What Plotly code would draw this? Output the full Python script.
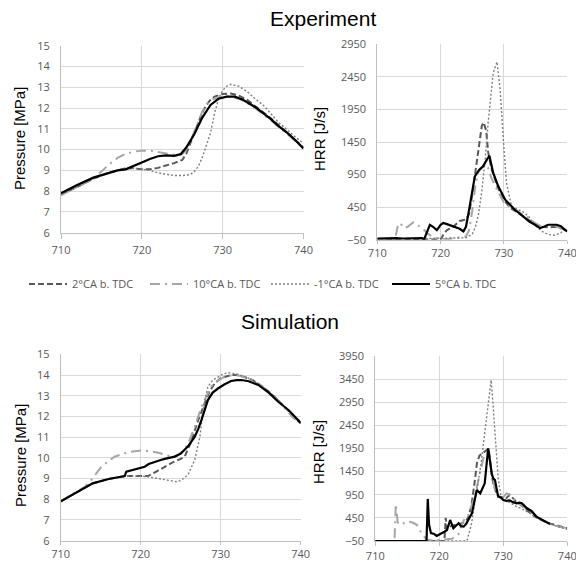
import plotly.graph_objects as go

# ---------------- data ----------------
series_names = ["2°CA b. TDC", "10°CA b. TDC", "-1°CA b. TDC", "5°CA b. TDC"]

# Experiment - pressure [MPa]
exp_p_x_2 = [710,712,714,716,718,719,720,721,722,723,724,725,725.5,726,726.5,727,727.5,728,728.5,729,730,731,732,733,734,735,736,737,738,739,740]
exp_p_y_2 = [7.85,8.2,8.6,8.9,9.1,9.1,9.05,9.05,9.12,9.22,9.35,9.5,9.8,10.3,10.8,11.3,11.8,12.15,12.4,12.55,12.68,12.7,12.6,12.4,12.1,11.8,11.5,11.15,10.8,10.45,10.1]
exp_p_x_10 = [710,712,714,715,716,717,718,719,720,721,722,723,724,725,725.5,726,726.5,727,727.5,728,728.5,729,730,731,732,733,734,735,736,737,738,739,740]
exp_p_y_10 = [7.8,8.2,8.6,8.95,9.3,9.6,9.8,9.9,9.95,9.95,9.88,9.8,9.75,9.78,10.0,10.4,10.9,11.4,11.85,12.15,12.35,12.45,12.55,12.55,12.45,12.25,12.0,11.7,11.4,11.05,10.75,10.4,10.05]
exp_p_x_m1 = [710,712,714,716,718,719,720,721,722,723,724,725,726,726.5,727,727.5,728,728.5,729,729.5,730,730.5,731,732,733,734,735,736,737,738,739,740]
exp_p_y_m1 = [7.85,8.2,8.6,8.9,9.1,9.1,9.05,9.0,8.88,8.8,8.75,8.75,8.8,8.95,9.2,9.65,10.25,10.8,11.75,12.45,12.85,13.05,13.14,13.05,12.8,12.45,12.15,11.7,11.27,10.95,10.6,10.3]
exp_p_x_5 = [710,712,714,716,717,718,719,720,721,722,723,724,724.8,725.5,726.5,727.5,728.5,729.5,730.5,731.5,732.5,734,735,736,737,738,739,740]
exp_p_y_5 = [7.9,8.3,8.65,8.9,9.0,9.05,9.22,9.4,9.55,9.68,9.72,9.7,9.78,10.1,10.75,11.55,12.15,12.45,12.55,12.55,12.4,12.05,11.75,11.45,11.1,10.8,10.45,10.05]

# Experiment - HRR [J/s]
exp_h_x_2 = [710,712,714,716,718,719,720,720.5,721,722,723,724,724.5,725,725.5,726,726.5,726.8,727.2,727.5,728,729,730,731,732,733,734,735,736,737,738,739,740]
exp_h_y_2 = [-40,-40,-45,-40,-40,-45,-45,40,100,150,240,260,350,650,1000,1400,1700,1750,1620,1300,1050,760,560,440,380,320,250,180,150,140,150,130,100]
exp_h_x_10 = [710,712,712.8,713.2,713.6,714.2,714.8,715.7,716.5,717.2,718,719,720,721,722,723,724,724.5,725,725.5,726,726.5,727,727.5,728,729,730,731,732,733,734,735,736,737,738,739,740]
exp_h_y_10 = [-50,-50,-50,150,210,130,150,220,170,120,40,-20,-30,-40,-30,-20,0,100,400,800,1000,1050,1100,1050,900,700,520,450,400,330,280,200,150,180,170,120,100]
exp_h_x_m1 = [710,712,714,716,718,720,722,723,724,724.5,725,725.5,726,726.5,727,727.5,728,728.3,728.9,729.4,729.9,730.4,731.2,732,733,734,735,736,737,738,739,740]
exp_h_y_m1 = [-40,-40,-40,-40,-30,-25,-20,-20,-20,10,40,150,350,700,1150,1743,2200,2512,2680,2255,1487,821,462,430,380,300,160,80,30,20,60,130]
exp_h_x_5 = [710,711,712,713,714,715,716,717,717.4,718,718.3,718.8,719.4,720,720.4,721,722,723,723.6,724,724.4,724.9,725.4,726.1,726.7,727.3,727.7,728.3,729.1,730.2,731,731.7,732.5,733.3,734,734.9,735.7,736.3,737,738.3,739,739.6,740]
exp_h_y_5 = [-30,-25,-30,-25,-30,-28,-30,-25,-40,120,180,150,100,180,207,190,150,120,80,150,360,667,923,1026,1077,1180,1240,975,770,565,480,411,350,283,230,181,130,150,181,181,160,104,80]

# Simulation - pressure [MPa]
sim_p_x_2 = [710,712,714,716,718,719,720,720.9,722,723,724,725,725.5,726.3,727.2,728,728.6,729.25,730,731.3,732,733,734,735,736,737,738,739,740]
sim_p_y_2 = [7.9,8.35,8.77,8.98,9.12,9.12,9.12,9.12,9.35,9.57,9.78,9.95,10.06,10.78,11.83,12.63,13.2,13.6,13.85,14.0,14.0,13.9,13.75,13.5,13.2,12.85,12.45,12.0,11.65]
sim_p_x_10 = [710,712,713,713.8,715.1,716,716.75,718,718.8,720,720.5,721,722.2,723,723.8,724.5,725.5,726,726.75,727.6,728.2,728.8,729.5,730.5,731.5,732,733,734,735,736,737,738,739,740]
sim_p_y_10 = [7.9,8.35,8.6,8.93,9.57,9.85,10.06,10.22,10.3,10.35,10.35,10.33,10.25,10.15,10.06,10.1,10.4,10.75,11.5,12.47,13.0,13.44,13.7,13.92,14.0,14.0,13.9,13.75,13.5,13.2,12.85,12.4,11.95,11.67]
sim_p_x_m1 = [710,712,714,716,718,719,720,720.5,721,722,723,724,724.5,725,725.9,726.75,727.4,727.8,728.4,729,729.7,730.3,730.9,731.5,732,733,734,735,736,737,738,739,740]
sim_p_y_m1 = [7.9,8.35,8.77,8.98,9.12,9.12,9.12,9.1,9.08,9.02,8.95,8.87,8.85,8.9,9.17,9.9,11.02,12.31,13.44,13.75,13.92,14.05,14.11,14.08,14.05,13.92,13.75,13.5,13.2,12.85,12.45,12.05,11.7]
sim_p_x_5 = [710,712,714,716,718,718.2,719,720,720.5,721,721.75,722.5,723,724,724.25,725,725.5,726,726.75,727.2,727.6,728,728.4,729,729.7,730.5,731.3,732,732.6,733.5,734.7,736,737.2,738.5,739.7,740]
sim_p_y_5 = [7.9,8.35,8.77,8.98,9.12,9.33,9.42,9.52,9.57,9.7,9.81,9.9,9.95,10.04,10.06,10.2,10.38,10.6,11.02,11.4,11.83,12.3,12.79,13.15,13.36,13.55,13.71,13.75,13.76,13.7,13.52,13.15,12.71,12.3,11.83,11.7]

# Simulation - HRR [J/s]
sim_h_x_2 = [710,712,714,716,718,720,720.8,721.0,721.2,721.5,722,723,724,724.5,725,725.5,725.9,726.3,726.8,727.3,727.7,728,728.4,729,729.5,730.5,731,732,733,734,735,736,737,738,739,740]
sim_h_y_2 = [-50,-50,-50,-50,-50,-50,-50,450,200,250,280,320,350,450,700,1200,1650,1800,1850,1900,1950,1600,1200,950,900,880,950,800,700,580,470,400,340,300,260,225]
sim_h_x_10 = [710,712,713.0,713.2,713.5,714,715,715.8,716.5,717.3,718,719,720,721,722,723,723.5,724,724.5,725,725.5,726,726.5,727,727.5,727.8,728.2,728.8,729.5,730,730.5,731,732,733,734,735,736,737,738,739,740]
sim_h_y_10 = [-50,-50,-50,750,350,300,380,350,300,100,-20,-40,-30,-20,0,100,300,450,500,700,900,1200,1500,1800,1850,1800,1400,1000,870,900,980,950,800,720,600,480,400,330,290,250,230]
sim_h_x_m1 = [710,712,714,716,718,720,722,723,724,724.3,725,725.8,726.5,727.2,727.8,728.1,728.4,728.8,729.2,729.6,730.2,731,732,733,734,735,736,737,738,739,740]
sim_h_y_m1 = [-50,-50,-50,-50,-50,-50,-50,-50,-50,-50,300,950,1600,2400,3150,3430,2900,2000,1300,950,840,780,700,640,560,470,400,330,280,240,200]
sim_h_x_5 = [710,712,714,716,717,718,718.1,718.2,718.4,718.7,719.2,719.6,720,720.4,720.8,721.2,721.7,722.2,722.6,723,723.4,723.8,724.2,724.6,724.8,725.1,725.5,725.85,726.4,726.8,727.1,727.45,727.65,727.8,728.0,728.2,728.45,728.7,729.2,729.6,730,730.5,731,731.5,732.1,732.5,732.9,733.3,733.7,734.4,735.2,735.9,736.6,737.3]
sim_h_y_5 = [-50,-50,-50,-50,-50,-50,400,860,300,120,100,60,90,116,150,188,404,225,280,333,270,260,320,404,475,549,800,1053,981,1100,1197,1700,1954,1800,1556,1400,1300,1269,908,890,836,820,830,790,765,780,765,720,657,600,475,420,370,318]

x_ticks = [710, 720, 730, 740]
p_ticks = [6, 7, 8, 9, 10, 11, 12, 13, 14, 15]
exp_h_ticks = [-50, 450, 950, 1450, 1950, 2450, 2950]
sim_h_ticks = [-50, 450, 950, 1450, 1950, 2450, 2950, 3450, 3950]

# ---------------- styling ----------------
W, H = 576, 563
styles = {
    "2°CA b. TDC": dict(color="#595959", width=2.0, dash="6px,3px"),
    "10°CA b. TDC": dict(color="#a6a6a6", width=2.0, dash="10px,5px,2px,5px"),
    "-1°CA b. TDC": dict(color="#7f7f7f", width=1.4, dash="2px,2px"),
    "5°CA b. TDC": dict(color="#000000", width=2.2, dash="solid"),
}

panels = [
    ("x", "y", [(exp_p_x_2, exp_p_y_2), (exp_p_x_10, exp_p_y_10), (exp_p_x_m1, exp_p_y_m1), (exp_p_x_5, exp_p_y_5)], True),
    ("x2", "y2", [(exp_h_x_2, exp_h_y_2), (exp_h_x_10, exp_h_y_10), (exp_h_x_m1, exp_h_y_m1), (exp_h_x_5, exp_h_y_5)], False),
    ("x3", "y3", [(sim_p_x_2, sim_p_y_2), (sim_p_x_10, sim_p_y_10), (sim_p_x_m1, sim_p_y_m1), (sim_p_x_5, sim_p_y_5)], False),
    ("x4", "y4", [(sim_h_x_2, sim_h_y_2), (sim_h_x_10, sim_h_y_10), (sim_h_x_m1, sim_h_y_m1), (sim_h_x_5, sim_h_y_5)], False),
]

fig = go.Figure()
for xa, ya, data, show in panels:
    for name, (xs, ys) in zip(series_names, data):
        fig.add_trace(go.Scatter(x=xs, y=ys, mode="lines", name=name, line=styles[name],
                                 xaxis=xa, yaxis=ya, showlegend=show, legendgroup=name))

def px_x(a, b):
    return [a / W, b / W]

def px_y(top, bottom):
    return [1 - bottom / H, 1 - top / H]

tick_font = dict(family="Open Sans", size=11, color="#595959")
grid = "#d9d9d9"

def xaxis(dom, anchor, tlen, stand):
    return dict(domain=dom, anchor=anchor, range=[710, 740], tickvals=x_ticks,
                showgrid=True, gridcolor=grid, gridwidth=1, showline=True, linecolor="#bfbfbf",
                ticks="outside", ticklen=tlen, tickcolor="#bfbfbf", tickfont=tick_font,
                ticklabelstandoff=stand, ticklabeloverflow="allow",
                zeroline=False, automargin=False)

def yaxis(dom, anchor, rng, tv):
    return dict(domain=dom, anchor=anchor, range=rng, tickvals=tv,
                showgrid=True, gridcolor=grid, gridwidth=1, showline=True, linecolor="#bfbfbf",
                ticks="", tickfont=tick_font, ticklabelstandoff=8, ticklabeloverflow="allow",
                zeroline=False, automargin=False)

layout = dict(
    width=W, height=H, margin=dict(l=0, r=0, t=0, b=0, pad=0, autoexpand=False),
    paper_bgcolor="white", plot_bgcolor="white",
    xaxis=xaxis(px_x(61, 303.5), "y", 5, 2),
    yaxis=yaxis(px_y(45.7, 232.7), "x", [6, 15], p_ticks),
    xaxis2=xaxis(px_x(377.3, 567.3), "y2", 3, 0),
    yaxis2=yaxis(px_y(44.3, 239.8), "x2", [-50, 2950], exp_h_ticks),
    xaxis3=xaxis(px_x(60.7, 300.7), "y3", 3, 0),
    yaxis3=yaxis(px_y(354.3, 540.7), "x3", [6, 15], p_ticks),
    xaxis4=xaxis(px_x(375.3, 567.3), "y4", 4, 1),
    yaxis4=yaxis(px_y(356, 541), "x4", [-50, 3950], sim_h_ticks),
    legend=dict(orientation="h", x=266 / W, xanchor="center", y=1 - 284 / H, yanchor="middle",
                font=dict(family="Open Sans", size=11, color="#595959"), itemwidth=38,
                entrywidth=68, bgcolor="rgba(0,0,0,0)"),
    showlegend=True,
)
fig.update_layout(**layout)

def ann(text, x, y, size, angle=0):
    fig.add_annotation(text=text, x=x / W, y=1 - y / H, xref="paper", yref="paper",
                       showarrow=False, textangle=angle, xanchor="center", yanchor="middle",
                       font=dict(family="Liberation Sans, Arial", size=size, color="#000000"))

ann("Experiment", 323, 19, 21)
ann("Simulation", 290, 321, 21)
ann("Pressure [MPa]", 20, 139, 15, -90)
ann("HRR [J/s]", 320, 139, 15, -90)
ann("Pressure [MPa]", 20, 456, 15, -90)
ann("HRR [J/s]", 318, 452, 15, -90)

fig.write_html("out.html", config={"displayModeBar": False},
               post_script="document.body.style.margin='0';document.body.style.overflow='hidden';")
